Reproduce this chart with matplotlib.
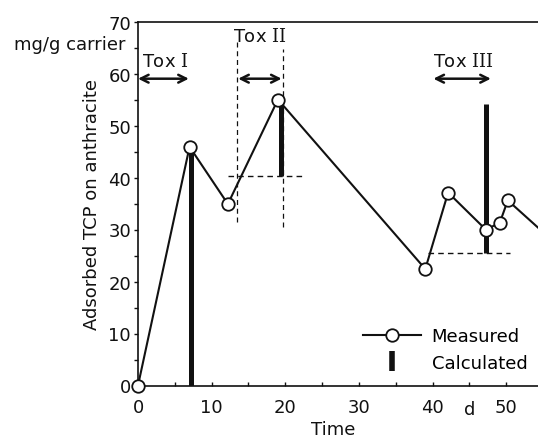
import matplotlib
matplotlib.use('Agg')
import matplotlib.pyplot as plt
from matplotlib.lines import Line2D

# ============================================
# DATA
# ============================================
meas_time = [0, 7.0, 12.2, 19.0, 39.0, 42.1, 47.2, 49.1, 50.2, 56.0]
meas_tcp = [0, 45.9, 34.9, 55.0, 22.4, 37.1, 30.0, 31.25, 35.6, 28.2]

calc_time = [7.2, 19.4, 47.2]
calc_low = [0, 40.3, 25.4]
calc_high = [45.5, 55.0, 54.1]

tox_names = ['Tox $\\mathrm{I}$', 'Tox $\\mathrm{II}$', 'Tox $\\mathrm{III}$']
tox_start = [0, 13.6, 40.1]
tox_end = [6.9, 19.5, 47.9]
tox_label_x = [3.7, 16.55, 44.1]
tox_label_y = [62.4, 67.3, 62.4]
arrow_y = 59.0

# dashed guide lines
tox2_vlines_x = [13.5, 19.7]
tox2_vlines_lo = [31.4, 30.4]
tox2_vlines_hi = [66.0, 64.7]
guide_h_y = [40.3, 25.4]
guide_h_x0 = [12.25, 39.4]
guide_h_x1 = [22.2, 50.5]

x_ticks = [0, 10, 20, 30, 40, 50]
y_ticks = [0, 10, 20, 30, 40, 50, 60, 70]

# ============================================
# STYLE
# ============================================
plt.rcParams['font.family'] = ['DejaVu Sans']
plt.rcParams['font.size'] = 13
plt.rcParams['mathtext.fontset'] = 'custom'
plt.rcParams['mathtext.rm'] = 'DejaVu Serif'
INK = '#111111'

fig = plt.figure(figsize=(5.38, 4.39), dpi=100)
ax = fig.add_axes([138 / 538, 52.5 / 439, 400 / 538, 364 / 439])

# measured series
ax.plot(meas_time, meas_tcp, color=INK, lw=1.5, marker='o', markersize=9,
        markerfacecolor='white', markeredgecolor=INK, markeredgewidth=1.3,
        clip_on=False, zorder=4)

# calculated bars
ax.vlines(calc_time, calc_low, calc_high, colors=INK, lw=3.6, zorder=3)

# dashed guides
ax.vlines(tox2_vlines_x, tox2_vlines_lo, tox2_vlines_hi, colors=INK, lw=0.9,
          linestyles=(0, (4, 3)), zorder=2)
ax.hlines(guide_h_y, guide_h_x0, guide_h_x1, colors=INK, lw=1.0,
          linestyles=(0, (4, 3)), zorder=2)

# Tox arrows + labels
for name, x0, x1, lx, ly in zip(tox_names, tox_start, tox_end, tox_label_x, tox_label_y):
    ax.annotate('', xy=(x1, arrow_y), xytext=(x0, arrow_y),
                arrowprops=dict(arrowstyle='<->', color=INK, lw=1.8,
                                shrinkA=0, shrinkB=0, mutation_scale=14),
                annotation_clip=False)
    ax.text(lx, ly, name, ha='center', va='center', fontsize=13, color=INK)

# axes
ax.set_xlim(0, 54.3)
ax.set_ylim(0, 70)
ax.set_xticks(x_ticks)
ax.set_xticks(range(5, 55, 10), minor=True)
ax.set_yticks(y_ticks)
ax.set_yticks(range(5, 70, 10), minor=True)
ax.tick_params(axis='x', which='both', direction='in', length=3, width=1, pad=9,
               labelsize=13, colors=INK)
ax.tick_params(axis='y', which='both', direction='out', length=3, width=1, pad=2,
               labelsize=13, colors=INK)
ax.spines['right'].set_visible(False)
for s in ['left', 'top', 'bottom']:
    ax.spines[s].set_linewidth(1.2)
    ax.spines[s].set_color(INK)

# texts
fig.text(92 / 538, 1 - 204.5 / 439, 'Adsorbed TCP on anthracite', rotation=90,
         ha='center', va='center', fontsize=13, color=INK)
fig.text(69.5 / 538, 1 - 45 / 439, 'mg/g carrier', ha='center', va='center',
         fontsize=13, color=INK)
fig.text(333 / 538, 1 - 430 / 439, 'Time', ha='center', va='center',
         fontsize=13, color=INK)
ax.text(45, -0.064, 'd', transform=ax.get_xaxis_transform(), ha='center',
        va='center', fontsize=13, color=INK)

# legend
handles = [
    Line2D([], [], color=INK, lw=1.5, marker='o', markersize=9,
           markerfacecolor='white', markeredgecolor=INK, markeredgewidth=1.3),
    Line2D([], [], color=INK, lw=0, marker='|', markersize=15, markeredgewidth=4),
]
ax.legend(handles, ['Measured', 'Calculated'], loc='center left',
          bbox_to_anchor=(363 / 538, 1 - 350.5 / 439), bbox_transform=fig.transFigure,
          frameon=False, fontsize=13, handlelength=3.2, handletextpad=0.6,
          labelspacing=0.45, borderpad=0, borderaxespad=0)

fig.savefig('out.png', dpi=100, facecolor='white')
plt.close(fig)
